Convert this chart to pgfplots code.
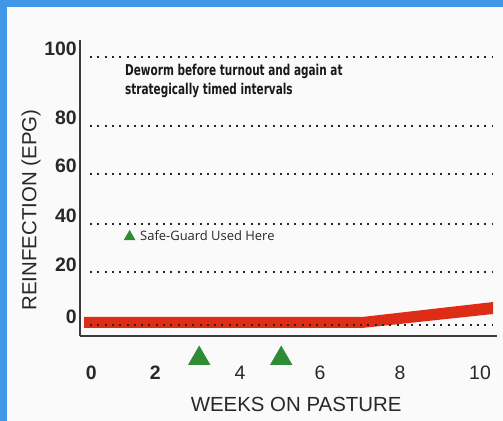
\documentclass[border=0pt]{standalone}
\usepackage{fontspec}
\setmainfont{Liberation Sans}
\newfontfamily\condfont{DejaVu Sans Condensed}
\newfontfamily\osfont{Open Sans}
\usepackage{pgfplots}
\pgfplotsset{compat=1.18}
\definecolor{bgblue}{RGB}{66,150,230}
\definecolor{bandred}{RGB}{222,45,22}
\definecolor{trigreen}{RGB}{46,140,52}
\definecolor{txt}{RGB}{40,40,40}
\definecolor{axisgray}{RGB}{60,60,60}
\begin{document}
\begin{tikzpicture}
\useasboundingbox (0bp,0bp) rectangle (503bp,421bp);
\fill[bgblue] (0bp,0bp) rectangle (503bp,421bp);
\fill[white!98!black] (7bp,0bp) rectangle (503bp,414bp);
\begin{axis}[
  at={(80bp,85bp)}, anchor=south west,
  scale only axis, width=417.2bp, height=296bp,
  xmin=0, xmax=10.43, ymin=-4.4, ymax=114,
  axis x line*=bottom, axis y line*=left,
  axis line style={axisgray, line width=1.3bp, -},
  major tick length=0pt,
  clip=false,
  /pgf/number format/assume math mode=true,
  tick label style={font=\fontsize{19.5}{20}\selectfont, text=txt, inner sep=0pt},
  xtick={0.28,1.88,4,6,8,10},
  xticklabels={\textbf{0},\textbf{2},4,6,8,10},
  xticklabel style={anchor=center, yshift=-37bp},
  ytick={0,21,40.4,60.4,79.6,107.2},
  yticklabels={0,20,40,60,80,100},
  yticklabel style={anchor=east, xshift=-3bp, yshift=8bp, font=\bfseries\fontsize{19.5}{20}\selectfont},
  xlabel={WEEKS ON PASTURE},
  ylabel={REINFECTION (EPG)},
  label style={font=\fontsize{20.5}{22}\selectfont, text=txt},
  xlabel style={at={(axis description cs:0.518,-0.23)}, anchor=center},
  ylabel style={at={(axis description cs:-0.1175,0.4257)}, anchor=center},
]
% red band
\addplot[fill=bandred, draw=none] coordinates {
  (0.1,3.2) (7.05,3.2) (10.33,9.2) (10.33,4.4) (7.05,-1.2) (0.1,-1.2)
} -- cycle;
% dotted gridlines
\pgfplotsinvokeforeach{0,21,40.4,60.4,79.6,107.2}{
  \addplot[black!85, line width=2bp, dash pattern=on 2bp off 5.3bp] coordinates {(0.25,#1) (10.33,#1)};
}
% treatment triangles
\addplot[only marks, mark=triangle*, mark size=12.5bp, color=trigreen] coordinates {(2.98,-13.4) (5.03,-13.4)};
% legend triangle
\addplot[only marks, mark=triangle*, mark size=6.4bp, color=trigreen] coordinates {(1.24,35.3)};
\node[anchor=west, inner sep=0pt, font=\osfont\fontsize{13}{14}\selectfont, text=txt] at (axis cs:1.5,35.6) {Safe-Guard Used Here};
\node[anchor=north west, inner sep=0pt, align=left, xscale=0.78, font=\condfont\bfseries\fontsize{15}{19.5}\selectfont, text=black!90] at (axis cs:1.125,104.6) {Deworm before turnout and again at\\strategically timed intervals};
\end{axis}
\end{tikzpicture}
\end{document}
